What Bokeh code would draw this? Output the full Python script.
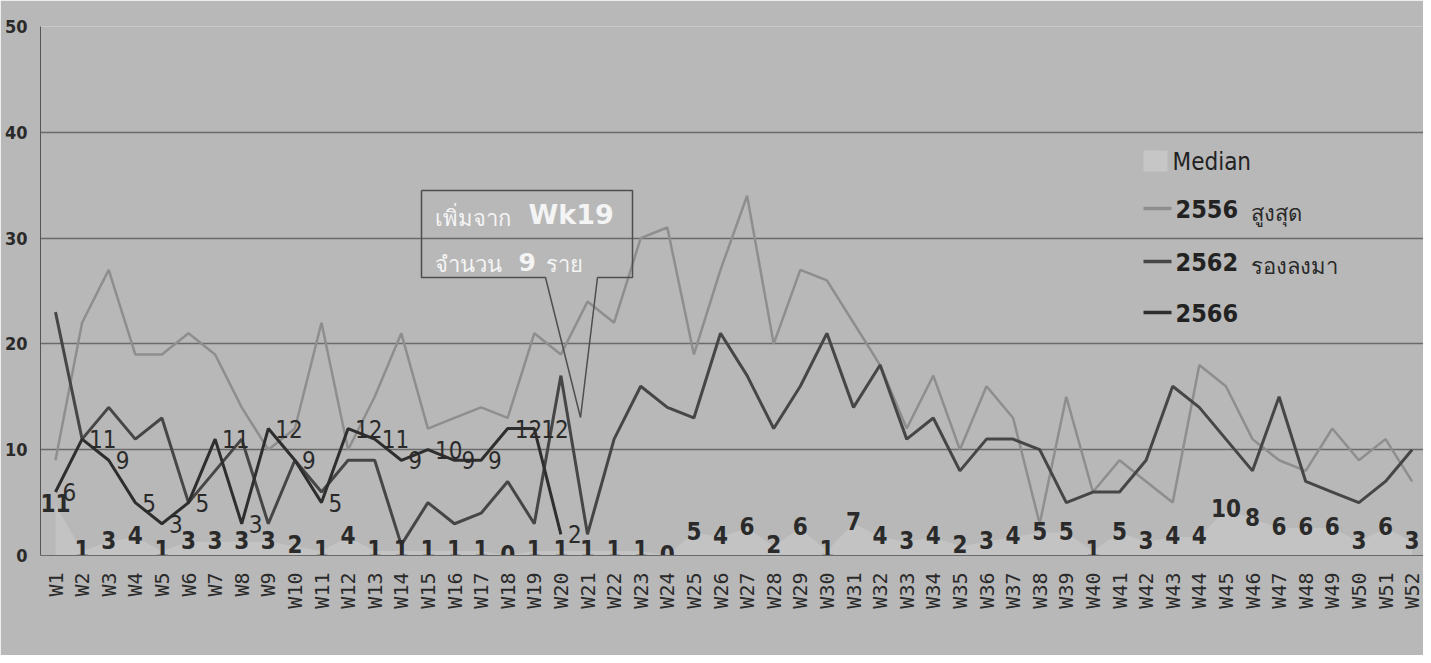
import math
from bokeh.plotting import figure
from bokeh.models import Range1d, FixedTicker, ColumnDataSource
from bokeh.core.properties import value
from bokeh.embed import file_html
from bokeh.resources import INLINE

# ---------------- data ----------------
weeks = [f"W{i}" for i in range(1, 53)]
median = [11, 1, 3, 4, 1, 3, 3, 3, 3, 2, 1, 4, 1, 1, 1, 1, 1, 0, 1, 1,
          1, 1, 1, 0, 5, 4, 6, 2, 6, 1, 7, 4, 3, 4, 2, 3, 4, 5, 5, 1,
          5, 3, 4, 4, 10, 8, 6, 6, 6, 3, 6, 3]
y2556 = [9, 22, 27, 19, 19, 21, 19, 14, 10, 12, 22, 10, 15, 21, 12, 13, 14, 13, 21, 19,
         24, 22, 30, 31, 19, 27, 34, 20, 27, 26, 22, 18, 12, 17, 10, 16, 13, 3, 15, 6,
         9, 7, 5, 18, 16, 11, 9, 8, 12, 9, 11, 7]
y2562 = [23, 11, 14, 11, 13, 5, 8, 11, 3, 9, 6, 9, 9, 1, 5, 3, 4, 7, 3, 17,
         2, 11, 16, 14, 13, 21, 17, 12, 16, 21, 14, 18, 11, 13, 8, 11, 11, 10, 5, 6,
         6, 9, 16, 14, 11, 8, 15, 7, 6, 5, 7, 10]
y2566 = [6, 11, 9, 5, 3, 5, 11, 3, 12, 9, 5, 12, 11, 9, 10, 9, 9, 12, 12, 2]
y_ticks = [0, 10, 20, 30, 40, 50]
series_names = ["Median", "2556", "2562", "2566"]
series_notes = ["", "สูงสุด", "รองลงมา", ""]
callout_lines = [("เพิ่มจาก", "Wk19"), ("จำนวน", "9", "ราย")]

# ---------------- style ----------------
BG = "#b8b8b8"
GRID = "#6a6a6a"
C2556 = "#8e8e8e"
C2562 = "#464646"
C2566 = "#2e2e2e"
CMED = "#c6c6c6"
NARROW = "'Liberation Sans Narrow', 'Arial Narrow', 'DejaVu Sans Condensed', sans-serif"
MONO = "DejaVu Sans Mono"
THAI = "Noto Sans"

W, H = 1423, 655
FL, FR, FT, FB = 40, 1423, 26, 555   # plot frame in picture pixels
STEP = 26.6                          # pixels per week
XA = 1 - (55 - FL) / STEP
XB = 1 + (FR - 55) / STEP


def dx(px):
    return XA + (px - FL) * (XB - XA) / (FR - FL)


def dy(py):
    return (FB - py) * 50.0 / (FB - FT)


idx = list(range(1, 53))

p = figure(width=W, height=H, output_backend="svg", toolbar_location=None,
           x_range=Range1d(XA, XB), y_range=Range1d(0, 50),
           min_border_left=FL, min_border_right=0, min_border_top=FT,
           min_border_bottom=H - FB,
           background_fill_color=BG, border_fill_color=BG,
           outline_line_color=None)
p.extra_y_ranges = {"med": Range1d(0, 115)}

# axes
p.xaxis.ticker = FixedTicker(ticks=idx)
p.xaxis.major_label_overrides = {i: weeks[i - 1] for i in idx}
p.xaxis.major_label_orientation = math.pi / 2
p.xaxis.major_label_text_font = MONO
p.xaxis.major_label_text_font_size = "20px"
p.xaxis.major_label_text_color = "#2a2a2a"
p.xaxis.major_label_standoff = 17
p.xaxis.major_tick_line_color = None
p.xaxis.major_tick_out = 0
p.xaxis.major_tick_in = 0
p.xaxis.minor_tick_line_color = None
p.xaxis.axis_line_color = GRID

p.yaxis.ticker = FixedTicker(ticks=y_ticks)
p.yaxis.major_label_text_font = NARROW
p.yaxis.major_label_text_font_style = "bold"
p.yaxis.major_label_text_font_size = "18px"
p.yaxis.major_label_text_color = "#2a2a2a"
p.yaxis.major_label_standoff = 13
p.yaxis.major_tick_line_color = None
p.yaxis.major_tick_out = 0
p.yaxis.major_tick_in = 0
p.yaxis.minor_tick_line_color = None
p.yaxis.axis_line_color = "#555555"

p.xgrid.visible = False
p.ygrid.grid_line_color = GRID
p.ygrid.grid_line_width = 1.4

# median area (secondary scale)
med_src = ColumnDataSource(dict(x=idx, y=median, t=[str(v) for v in median]))
p.varea(x="x", y1=0, y2="y", source=med_src, y_range_name="med",
        fill_color=CMED, fill_alpha=0.8)

# lines
p.line(idx, y2556, line_color=C2556, line_width=2.5)
p.line(idx, y2562, line_color=C2562, line_width=3)
p.line(idx[:len(y2566)], y2566, line_color=C2566, line_width=3)

# labels
p.text(x="x", y="y", text="t", source=med_src, y_range_name="med",
       text_align="center", text_baseline="middle", y_offset=-2,
       text_font=value(NARROW), text_font_size="24px", text_font_style="bold",
       text_color="#2a2a2a")
lab_src = ColumnDataSource(dict(x=idx[:len(y2566)], y=y2566,
                                t=[str(v) for v in y2566]))
p.text(x="x", y="y", text="t", source=lab_src, x_offset=7,
       text_align="left", text_baseline="middle",
       text_font=value(NARROW), text_font_size="24px",
       text_color="#2a2a2a")

# callout
cx = [421, 632, 632, 597, 580, 545, 421, 421]
cy = [190, 190, 277, 277, 417, 277, 277, 190]
p.line([dx(v) for v in cx], [dy(v) for v in cy], line_color="#4e4e4e", line_width=1.5)
p.text(x=[dx(434)], y=[dy(216)], text=[callout_lines[0][0]], text_baseline="middle",
       text_font=value(THAI), text_font_size="22px", text_color="#f4f4f4")
p.text(x=[dx(528)], y=[dy(214)], text=[callout_lines[0][1]], text_baseline="middle",
       text_font=value("DejaVu Sans"), text_font_style="bold", text_font_size="27px",
       text_color="#f4f4f4")
p.text(x=[dx(434)], y=[dy(262)], text=[callout_lines[1][0]], text_baseline="middle",
       text_font=value(THAI), text_font_size="22px", text_color="#f4f4f4")
p.text(x=[dx(518)], y=[dy(261)], text=[callout_lines[1][1]], text_baseline="middle",
       text_font=value("DejaVu Sans"), text_font_style="bold", text_font_size="25px",
       text_color="#f4f4f4")
p.text(x=[dx(545)], y=[dy(262)], text=[callout_lines[1][2]], text_baseline="middle",
       text_font=value(THAI), text_font_size="22px", text_color="#f4f4f4")

# legend
p.quad(left=[dx(1143)], right=[dx(1167)], top=[dy(150)], bottom=[dy(171)],
       fill_color=CMED, line_color=None)
leg_y = [161, 208, 261, 312]
leg_col = [None, C2556, C2562, C2566]
for name, note, yy, col in zip(series_names, series_notes, leg_y, leg_col):
    if col is not None:
        p.line([dx(1143), dx(1171)], [dy(yy), dy(yy)], line_color=col, line_width=3.5)
        p.text(x=[dx(1175)], y=[dy(yy)], text=[name], text_baseline="middle",
               text_font=value(NARROW), text_font_style="bold", text_font_size="25px",
               text_color="#222222")
    else:
        p.text(x=[dx(1172)], y=[dy(yy)], text=[name], text_baseline="middle",
               text_font=value(NARROW), text_font_size="24px",
               text_color="#222222")
    if note:
        p.text(x=[dx(1250)], y=[dy(yy + 3)], text=[note], text_baseline="middle",
               text_font=value(THAI), text_font_size="22px", text_color="#2a2a2a")

open("out.html", "w").write(file_html(p, INLINE))
